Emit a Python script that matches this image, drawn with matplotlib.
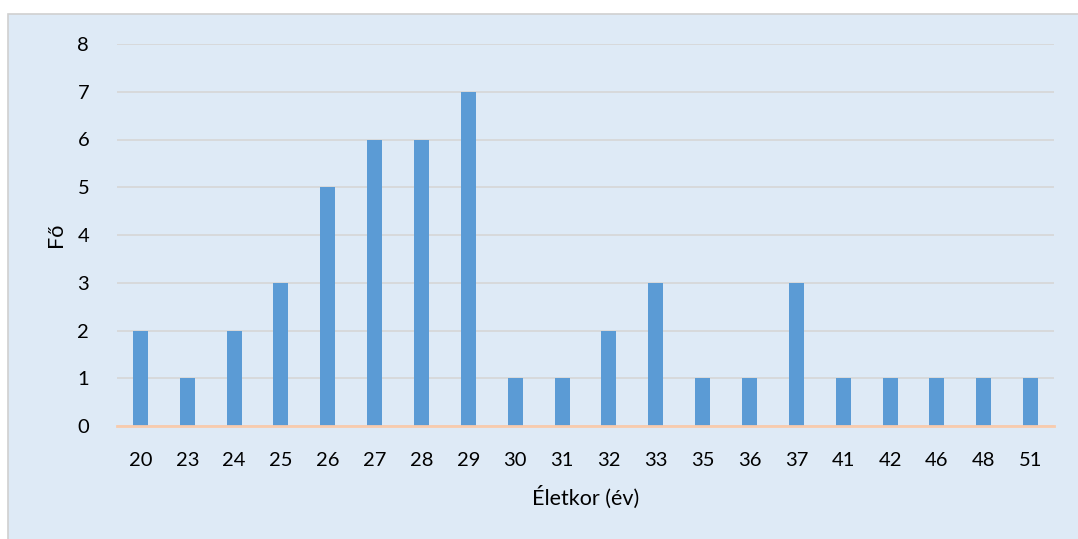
import matplotlib.pyplot as plt
from matplotlib.patches import Rectangle

ages = ['20', '23', '24', '25', '26', '27', '28', '29', '30', '31',
        '32', '33', '35', '36', '37', '41', '42', '46', '48', '51']
counts = [2, 1, 2, 3, 5, 6, 6, 7, 1, 1, 2, 3, 1, 1, 3, 1, 1, 1, 1, 1]

plt.rcParams['font.family'] = ['Lato', 'DejaVu Sans']

fig = plt.figure(figsize=(10.78, 5.39), dpi=100)
fig.patch.set_facecolor('white')
# chart area panel, kept behind the axes
fig.patches.append(Rectangle((8 / 1078, -0.01), 1.0, 1 - 14 / 539 + 0.01,
                             transform=fig.transFigure, facecolor='#DEEAF6',
                             edgecolor='#D0D0D0', linewidth=1.2, zorder=-5))

ax = fig.add_axes([117 / 1078, 1 - 426 / 539, 937 / 1078, (426 - 44) / 539])
ax.set_facecolor('none')
x = range(len(ages))
ax.bar(x, counts, width=0.32, color='#5B9BD5', zorder=3)

ax.set_xlim(-0.5, len(ages) - 0.5)
ax.set_ylim(0, 8)
ax.set_yticks(range(0, 9))
ax.set_xticks(list(x))
ax.set_xticklabels(ages)
ax.grid(axis='y', color='#D6D6D6', linewidth=1.2, zorder=0)
ax.axhline(0, color='#F8CBAD', linewidth=2, zorder=4, clip_on=False)
for s in ax.spines.values():
    s.set_visible(False)
ax.tick_params(length=0, labelsize=14.5, colors='black')
ax.tick_params(axis='x', pad=19)
ax.tick_params(axis='y', pad=20)

ax.set_xlabel('Életkor (év)', fontsize=15.5, labelpad=12)
ax.set_ylabel('Fő', fontsize=15.5, labelpad=8)

fig.savefig('out.png', dpi=100)
